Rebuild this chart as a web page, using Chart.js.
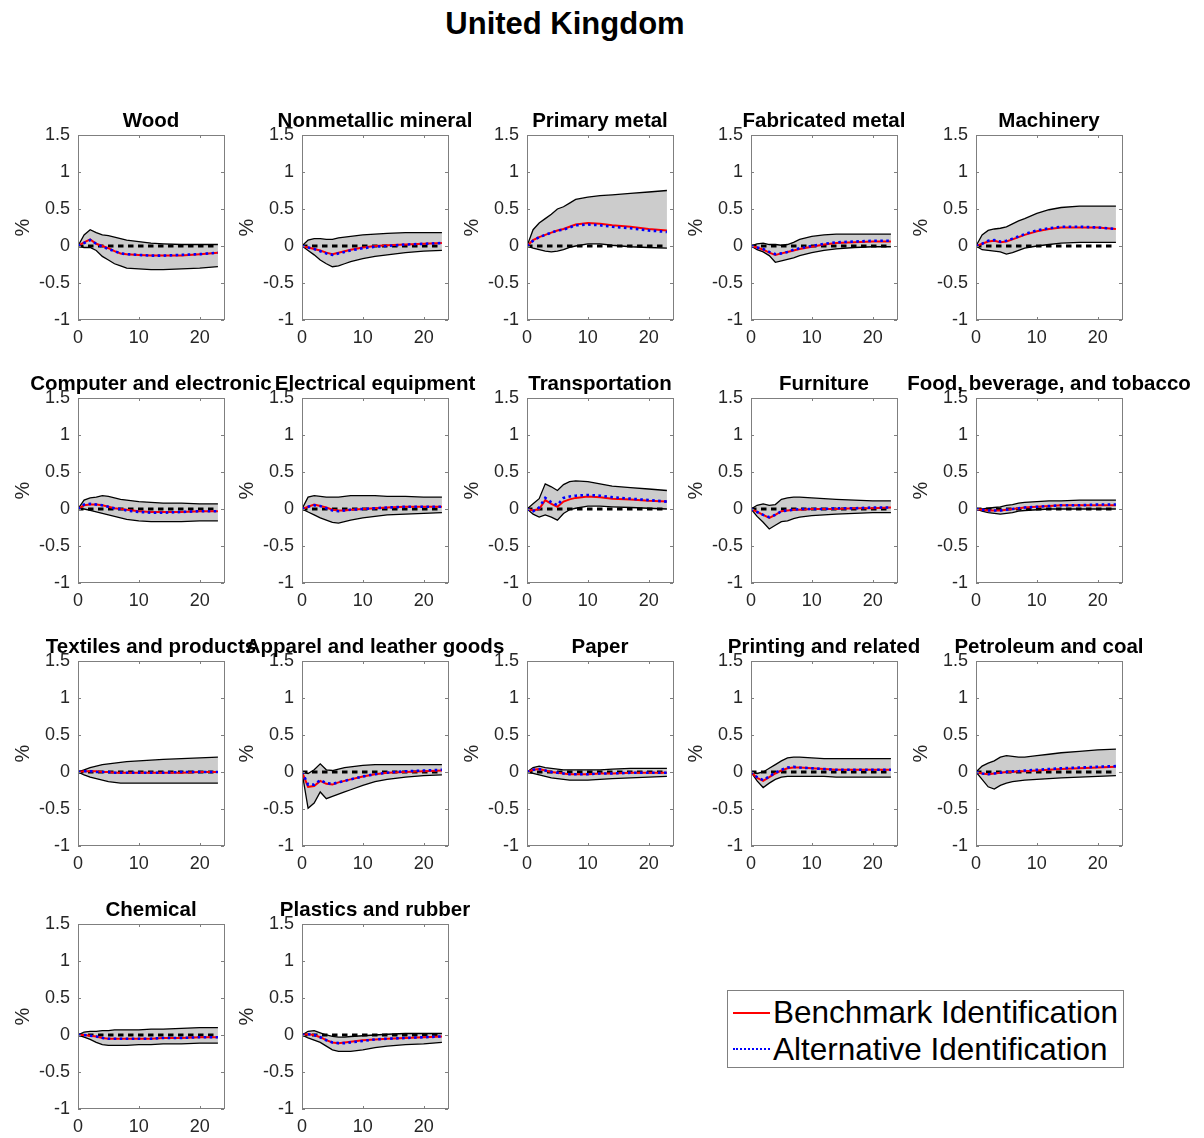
<!DOCTYPE html>
<html>
<head>
<meta charset="utf-8">
<title>United Kingdom</title>
<script src="https://cdn.jsdelivr.net/npm/chart.js@4.4.1/dist/chart.umd.min.js"></script>
<style>
  html, body { margin: 0; padding: 0; background: #ffffff; }
  #page { position: relative; width: 1204px; height: 1138px; overflow: hidden;
          font-family: "Liberation Sans", Arial, Helvetica, sans-serif; }
  #mainTitle { position: absolute; left: 0; top: 5px; width: 1130px; text-align: center;
               font-weight: bold; font-size: 31px; line-height: 37px; color: #000; }
  .panel { position: absolute; pointer-events: none; }
  #legend { position: absolute; left: 727px; top: 990px; width: 395px; height: 76px;
            border: 1px solid #808080; background: #fff; }
  .legRow { position: absolute; left: 0; height: 36px; width: 395px; }
  .legText { position: absolute; left: 45px; top: 0; font-size: 31.5px; line-height: 36px; color: #000; white-space: nowrap; }
  .swatch { position: absolute; left: 5px; width: 37px; height: 0; }
</style>
</head>
<body>
<div id="page">
  <div id="mainTitle">United Kingdom</div>
  <div id="legend">
    <div class="legRow" style="top:3px">
      <div class="swatch" style="top:18px;border-top:2px solid #ff0000"></div>
      <div class="legText">Benchmark Identification</div>
    </div>
    <div class="legRow" style="top:40px">
      <div class="swatch" style="top:17px;border-top:2px dotted #0000ff"></div>
      <div class="legText">Alternative Identification</div>
    </div>
  </div>
</div>
<script>
// Horizons (months after the shock) at which each response is recorded
const horizon = [0, 1, 2, 3, 4, 5, 6, 7, 8, 10, 12, 14, 17, 20, 23];

const xTicks = [0, 10, 20];
const yTicks = [-1, -0.5, 0, 0.5, 1, 1.5];

const panelTitles = [
  'Wood', 'Nonmetallic mineral', 'Primary metal', 'Fabricated metal', 'Machinery',
  'Computer and electronic', 'Electrical equipment', 'Transportation', 'Furniture', 'Food, beverage, and tobacco',
  'Textiles and products', 'Apparel and leather goods', 'Paper', 'Printing and related', 'Petroleum and coal',
  'Chemical', 'Plastics and rubber'
];

// Upper edge of the confidence band, one row per industry
const bandUpper = [
  [0, 0.15, 0.22, 0.18, 0.15, 0.14, 0.12, 0.10, 0.08, 0.06, 0.04, 0.03, 0.02, 0.02, 0.02],
  [0, 0.08, 0.10, 0.10, 0.09, 0.09, 0.11, 0.12, 0.13, 0.15, 0.16, 0.17, 0.18, 0.18, 0.18],
  [0, 0.22, 0.31, 0.37, 0.43, 0.50, 0.53, 0.58, 0.63, 0.66, 0.68, 0.69, 0.71, 0.73, 0.75],
  [0, 0.03, 0.04, 0.02, 0.02, 0.01, 0.02, 0.05, 0.09, 0.13, 0.15, 0.16, 0.16, 0.16, 0.16],
  [0, 0.15, 0.21, 0.23, 0.24, 0.26, 0.30, 0.34, 0.37, 0.44, 0.49, 0.52, 0.54, 0.54, 0.54],
  [0, 0.12, 0.15, 0.16, 0.18, 0.17, 0.15, 0.13, 0.12, 0.10, 0.09, 0.08, 0.08, 0.07, 0.07],
  [0, 0.16, 0.18, 0.17, 0.16, 0.16, 0.16, 0.17, 0.18, 0.18, 0.18, 0.17, 0.17, 0.16, 0.16],
  [0, 0.07, 0.14, 0.34, 0.30, 0.25, 0.33, 0.37, 0.38, 0.37, 0.34, 0.31, 0.29, 0.27, 0.25],
  [0, 0.05, 0.07, 0.05, 0.06, 0.13, 0.15, 0.16, 0.16, 0.15, 0.14, 0.13, 0.12, 0.11, 0.11],
  [0, 0.00, 0.01, 0.02, 0.03, 0.05, 0.06, 0.08, 0.09, 0.10, 0.11, 0.11, 0.12, 0.12, 0.12],
  [0, 0.03, 0.06, 0.08, 0.10, 0.11, 0.12, 0.13, 0.14, 0.15, 0.16, 0.17, 0.18, 0.19, 0.20],
  [0, -0.02, 0.03, 0.11, 0.03, 0.02, 0.04, 0.06, 0.07, 0.09, 0.10, 0.10, 0.10, 0.10, 0.10],
  [0, 0.06, 0.08, 0.06, 0.05, 0.04, 0.03, 0.03, 0.03, 0.03, 0.03, 0.04, 0.05, 0.05, 0.05],
  [0, -0.02, 0.00, 0.05, 0.10, 0.15, 0.19, 0.20, 0.20, 0.19, 0.18, 0.18, 0.18, 0.18, 0.18],
  [0, 0.08, 0.12, 0.15, 0.20, 0.22, 0.21, 0.20, 0.20, 0.22, 0.24, 0.26, 0.28, 0.30, 0.31],
  [0, 0.04, 0.05, 0.05, 0.06, 0.06, 0.07, 0.07, 0.07, 0.07, 0.08, 0.08, 0.09, 0.10, 0.10],
  [0, 0.05, 0.06, 0.03, 0.00, -0.02, -0.03, -0.03, -0.02, -0.01, 0.00, 0.01, 0.02, 0.02, 0.02]
];

// Lower edge of the confidence band
const bandLower = [
  [0, -0.02, -0.02, -0.06, -0.14, -0.19, -0.24, -0.27, -0.30, -0.31, -0.32, -0.32, -0.31, -0.30, -0.28],
  [0, -0.06, -0.12, -0.19, -0.24, -0.28, -0.27, -0.24, -0.21, -0.17, -0.14, -0.12, -0.09, -0.07, -0.06],
  [0, -0.03, -0.05, -0.07, -0.08, -0.07, -0.05, -0.02, 0.00, 0.03, 0.03, 0.01, -0.01, -0.02, -0.03],
  [0, -0.05, -0.08, -0.13, -0.22, -0.20, -0.18, -0.16, -0.13, -0.09, -0.06, -0.04, -0.02, -0.01, -0.01],
  [0, -0.05, -0.06, -0.07, -0.08, -0.11, -0.09, -0.06, -0.03, 0.00, 0.02, 0.04, 0.05, 0.05, 0.05],
  [0, 0.00, -0.02, -0.04, -0.06, -0.08, -0.10, -0.12, -0.14, -0.16, -0.17, -0.17, -0.17, -0.16, -0.16],
  [0, -0.04, -0.08, -0.12, -0.15, -0.18, -0.19, -0.17, -0.15, -0.12, -0.10, -0.08, -0.07, -0.06, -0.05],
  [0, -0.07, -0.11, -0.08, -0.11, -0.15, -0.06, -0.01, 0.01, 0.04, 0.04, 0.03, 0.02, 0.01, 0.00],
  [0, -0.10, -0.18, -0.27, -0.22, -0.17, -0.16, -0.13, -0.11, -0.09, -0.08, -0.07, -0.06, -0.05, -0.05],
  [0, -0.03, -0.05, -0.06, -0.07, -0.06, -0.05, -0.03, -0.02, -0.01, 0.00, 0.00, 0.00, 0.00, 0.00],
  [0, -0.04, -0.07, -0.09, -0.11, -0.13, -0.14, -0.15, -0.15, -0.15, -0.15, -0.15, -0.15, -0.15, -0.15],
  [0, -0.49, -0.42, -0.27, -0.36, -0.33, -0.30, -0.27, -0.24, -0.18, -0.13, -0.10, -0.07, -0.05, -0.04],
  [0, -0.02, -0.04, -0.06, -0.08, -0.09, -0.10, -0.11, -0.11, -0.11, -0.10, -0.09, -0.08, -0.07, -0.06],
  [0, -0.12, -0.21, -0.15, -0.10, -0.07, -0.06, -0.06, -0.06, -0.06, -0.06, -0.07, -0.07, -0.07, -0.07],
  [0, -0.10, -0.20, -0.23, -0.18, -0.15, -0.13, -0.12, -0.11, -0.10, -0.09, -0.08, -0.07, -0.06, -0.05],
  [0, -0.03, -0.06, -0.10, -0.13, -0.14, -0.14, -0.14, -0.14, -0.13, -0.13, -0.12, -0.12, -0.11, -0.11],
  [0, -0.04, -0.07, -0.10, -0.15, -0.20, -0.22, -0.22, -0.22, -0.20, -0.17, -0.15, -0.13, -0.12, -0.10]
];

// Benchmark identification responses
const benchmark = [
  [0, 0.05, 0.09, 0.03, 0.00, -0.03, -0.07, -0.10, -0.11, -0.12, -0.13, -0.13, -0.13, -0.11, -0.09],
  [0, -0.02, -0.04, -0.06, -0.09, -0.11, -0.09, -0.07, -0.05, -0.02, 0.00, 0.01, 0.02, 0.03, 0.04],
  [0, 0.08, 0.12, 0.15, 0.18, 0.21, 0.23, 0.26, 0.29, 0.31, 0.30, 0.28, 0.26, 0.23, 0.21],
  [0, -0.02, -0.05, -0.09, -0.12, -0.10, -0.08, -0.06, -0.04, -0.01, 0.02, 0.04, 0.05, 0.06, 0.06],
  [0, 0.03, 0.06, 0.07, 0.05, 0.06, 0.09, 0.12, 0.15, 0.20, 0.23, 0.25, 0.25, 0.25, 0.23],
  [0, 0.05, 0.06, 0.06, 0.05, 0.03, 0.01, 0.00, -0.01, -0.03, -0.04, -0.04, -0.04, -0.03, -0.03],
  [0, 0.03, 0.06, 0.04, 0.02, -0.01, -0.02, -0.02, -0.01, 0.00, 0.01, 0.02, 0.03, 0.03, 0.03],
  [0, -0.02, 0.00, 0.12, 0.07, 0.03, 0.10, 0.13, 0.15, 0.17, 0.16, 0.14, 0.13, 0.11, 0.10],
  [0, -0.04, -0.08, -0.12, -0.08, -0.03, -0.02, -0.01, -0.01, 0.00, 0.00, 0.00, 0.01, 0.01, 0.02],
  [0, -0.01, -0.02, -0.02, -0.02, -0.01, 0.00, 0.01, 0.02, 0.03, 0.04, 0.05, 0.05, 0.05, 0.05],
  [0, 0.01, 0.01, 0.01, 0.00, 0.00, -0.01, -0.01, -0.01, -0.01, -0.01, -0.01, -0.01, 0.00, 0.00],
  [0, -0.20, -0.19, -0.12, -0.16, -0.17, -0.14, -0.12, -0.10, -0.06, -0.03, -0.01, 0.00, 0.01, 0.02],
  [0, 0.03, 0.04, 0.02, 0.00, -0.01, -0.02, -0.03, -0.03, -0.03, -0.02, -0.02, -0.01, -0.01, -0.01],
  [0, -0.08, -0.12, -0.07, -0.02, 0.02, 0.05, 0.06, 0.06, 0.05, 0.04, 0.03, 0.03, 0.03, 0.03],
  [0, -0.02, -0.03, -0.02, -0.01, 0.00, 0.00, 0.01, 0.01, 0.02, 0.03, 0.04, 0.05, 0.06, 0.07],
  [0, 0.00, -0.01, -0.02, -0.04, -0.05, -0.05, -0.05, -0.05, -0.05, -0.05, -0.04, -0.04, -0.03, -0.03],
  [0, 0.01, 0.00, -0.03, -0.07, -0.10, -0.11, -0.10, -0.09, -0.07, -0.06, -0.05, -0.04, -0.03, -0.02]
];

// Alternative identification responses
const alternative = [
  [0, 0.04, 0.08, 0.03, -0.01, -0.04, -0.07, -0.10, -0.11, -0.12, -0.13, -0.13, -0.12, -0.11, -0.09],
  [0, -0.02, -0.04, -0.07, -0.10, -0.12, -0.10, -0.08, -0.06, -0.03, -0.01, 0.00, 0.02, 0.03, 0.04],
  [0, 0.07, 0.12, 0.15, 0.18, 0.21, 0.22, 0.25, 0.28, 0.29, 0.28, 0.26, 0.24, 0.21, 0.19],
  [0, -0.02, -0.04, -0.08, -0.11, -0.10, -0.08, -0.05, -0.03, 0.00, 0.03, 0.05, 0.06, 0.07, 0.07],
  [0, 0.03, 0.07, 0.08, 0.06, 0.07, 0.10, 0.13, 0.16, 0.21, 0.24, 0.26, 0.26, 0.25, 0.23],
  [0, 0.06, 0.07, 0.06, 0.05, 0.03, 0.01, 0.00, -0.02, -0.04, -0.05, -0.05, -0.04, -0.03, -0.03],
  [0, 0.03, 0.05, 0.04, 0.01, -0.02, -0.03, -0.02, -0.01, 0.00, 0.01, 0.02, 0.03, 0.03, 0.03],
  [0, -0.03, 0.02, 0.15, 0.09, 0.05, 0.15, 0.17, 0.18, 0.19, 0.18, 0.16, 0.14, 0.12, 0.10],
  [0, -0.04, -0.08, -0.11, -0.08, -0.03, -0.02, -0.01, 0.00, 0.00, 0.00, 0.01, 0.01, 0.02, 0.02],
  [0, -0.01, -0.02, -0.02, -0.02, -0.01, 0.00, 0.01, 0.02, 0.03, 0.04, 0.05, 0.05, 0.06, 0.06],
  [0, 0.01, 0.01, 0.00, 0.00, 0.00, -0.01, -0.01, -0.01, -0.01, -0.01, -0.01, 0.00, 0.00, 0.00],
  [0, -0.17, -0.17, -0.11, -0.15, -0.16, -0.14, -0.12, -0.10, -0.06, -0.03, -0.01, 0.01, 0.02, 0.03],
  [0, 0.03, 0.04, 0.02, 0.00, -0.01, -0.02, -0.03, -0.03, -0.03, -0.02, -0.02, -0.01, -0.01, -0.01],
  [0, -0.07, -0.11, -0.06, -0.01, 0.03, 0.06, 0.07, 0.06, 0.05, 0.04, 0.03, 0.03, 0.03, 0.03],
  [0, -0.02, -0.03, -0.02, -0.01, 0.00, 0.01, 0.01, 0.02, 0.03, 0.04, 0.05, 0.06, 0.07, 0.08],
  [0, 0.00, -0.01, -0.02, -0.04, -0.05, -0.05, -0.05, -0.05, -0.05, -0.05, -0.04, -0.04, -0.03, -0.03],
  [0, 0.01, 0.00, -0.03, -0.07, -0.10, -0.11, -0.11, -0.10, -0.08, -0.06, -0.05, -0.04, -0.03, -0.02]
];

const zeroLine = horizon.map(() => 0);

const FONT = '"Liberation Sans", Arial, Helvetica, sans-serif';
Chart.defaults.font.family = FONT;

// Layout of the 5-column grid of small panels
const PLOT_W = 146, PLOT_H = 185;
const CANVAS_W = 310, CANVAS_H = 255;
const AXIS_W = 77, TOP_PAD = 40, XAXIS_H = 30;
const COL_X = [78, 302, 527, 751, 976];
const ROW_Y = [135, 398, 661, 924];

// Draws the axes box, inward tick marks and the panel heading
const panelFrame = {
  id: 'panelFrame',
  afterDatasetsDraw(chart) {
    const { ctx, chartArea: a, scales: { x, y } } = chart;
    const l = Math.round(a.left), t = Math.round(a.top), r = Math.round(a.right), b = Math.round(a.bottom);
    ctx.save();
    ctx.strokeStyle = '#7f7f7f';
    ctx.lineWidth = 1;
    ctx.strokeRect(l + 0.5, t + 0.5, r - l, b - t - 1);
    ctx.beginPath();
    xTicks.forEach(v => {
      const px = Math.round(x.getPixelForValue(v)) + 0.5;
      ctx.moveTo(px, b); ctx.lineTo(px, b - 3);
      ctx.moveTo(px, t); ctx.lineTo(px, t + 3);
    });
    yTicks.forEach(v => {
      const py = Math.round(y.getPixelForValue(v)) + 0.5;
      ctx.moveTo(l, py); ctx.lineTo(l + 3, py);
      ctx.moveTo(r, py); ctx.lineTo(r - 3, py);
    });
    ctx.stroke();
    ctx.restore();
  },
  afterDraw(chart, args, opts) {
    const { ctx, chartArea: a } = chart;
    ctx.save();
    ctx.font = 'bold 20.5px ' + FONT;
    ctx.fillStyle = '#000';
    ctx.textAlign = 'center';
    ctx.textBaseline = 'alphabetic';
    ctx.fillText(opts.title, (a.left + a.right) / 2, a.top - 8);
    ctx.restore();
  }
};

const toPoints = vals => horizon.map((h, k) => ({ x: h, y: vals[k] }));
const page = document.getElementById('page');

panelTitles.forEach((name, i) => {
  const col = i % 5, row = Math.floor(i / 5);
  const canvas = document.createElement('canvas');
  canvas.className = 'panel';
  canvas.width = CANVAS_W;
  canvas.height = CANVAS_H;
  canvas.style.width = CANVAS_W + 'px';
  canvas.style.height = CANVAS_H + 'px';
  canvas.style.left = (COL_X[col] - AXIS_W) + 'px';
  canvas.style.top = (ROW_Y[row] - TOP_PAD) + 'px';
  page.appendChild(canvas);

  const tickFont = { family: FONT, size: 18 };
  new Chart(canvas, {
    type: 'line',
    data: {
      datasets: [
        { label: 'Alternative Identification', data: toPoints(alternative[i]),
          borderColor: '#0000ff', borderWidth: 2.6, borderDash: [2.6, 3.4], borderCapStyle: 'butt',
          pointRadius: 0, fill: false },
        { label: 'Benchmark Identification', data: toPoints(benchmark[i]),
          borderColor: '#ff0000', borderWidth: 2, pointRadius: 0, fill: false },
        { label: 'Zero', data: toPoints(zeroLine),
          borderColor: '#000000', borderWidth: 3.2, borderDash: [5.5, 4.5], borderCapStyle: 'butt',
          pointRadius: 0, fill: false },
        { label: 'Upper band', data: toPoints(bandUpper[i]),
          borderColor: '#000000', borderWidth: 1.3, backgroundColor: '#cccccc',
          pointRadius: 0, fill: '+1' },
        { label: 'Lower band', data: toPoints(bandLower[i]),
          borderColor: '#000000', borderWidth: 1.3, pointRadius: 0, fill: false }
      ]
    },
    options: {
      responsive: false,
      animation: false,
      devicePixelRatio: 1,
      events: [],
      layout: { padding: { top: TOP_PAD, right: CANVAS_W - AXIS_W - PLOT_W, bottom: 0, left: 0 } },
      elements: { line: { tension: 0 } },
      plugins: {
        legend: { display: false },
        tooltip: { enabled: false },
        filler: { drawTime: 'beforeDatasetsDraw' },
        panelFrame: { title: name }
      },
      scales: {
        x: {
          type: 'linear', min: 0, max: 24,
          afterBuildTicks: s => { s.ticks = xTicks.map(v => ({ value: v })); },
          afterFit: s => { s.height = XAXIS_H; },
          grid: { display: false, drawTicks: false },
          border: { display: false },
          ticks: { padding: 7, color: '#262626', font: tickFont, maxRotation: 0, autoSkip: false,
                   callback: v => String(v) }
        },
        y: {
          type: 'linear', min: -1, max: 1.5,
          afterBuildTicks: s => { s.ticks = yTicks.map(v => ({ value: v })); },
          afterFit: s => { s.width = AXIS_W; },
          grid: { display: false, drawTicks: false },
          border: { display: false },
          ticks: { padding: 8, color: '#262626', font: tickFont, autoSkip: false,
                   callback: v => String(v) },
          title: { display: true, text: '%', color: '#262626', font: { family: FONT, size: 20 },
                   padding: { top: 10, bottom: 0 } }
        }
      }
    },
    plugins: [panelFrame]
  });
});
</script>
</body>
</html>
